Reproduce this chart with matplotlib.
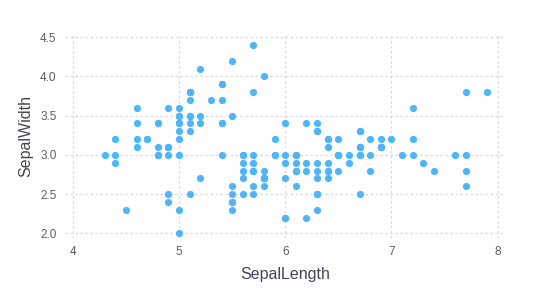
import matplotlib
matplotlib.use("Agg")
import matplotlib.pyplot as plt

# iris: dlugosc i szerokosc dzialki kielicha
sepal_length = [
    5.1, 4.9, 4.7, 4.6, 5.0, 5.4, 4.6, 5.0, 4.4, 4.9, 5.4, 4.8, 4.8, 4.3, 5.8, 5.7, 5.4, 5.1, 5.7, 5.1,
    5.4, 5.1, 4.6, 5.1, 4.8, 5.0, 5.0, 5.2, 5.2, 4.7, 4.8, 5.4, 5.2, 5.5, 4.9, 5.0, 5.5, 4.9, 4.4, 5.1,
    5.0, 4.5, 4.4, 5.0, 5.1, 4.8, 5.1, 4.6, 5.3, 5.0,
    7.0, 6.4, 6.9, 5.5, 6.5, 5.7, 6.3, 4.9, 6.6, 5.2, 5.0, 5.9, 6.0, 6.1, 5.6, 6.7, 5.6, 5.8, 6.2, 5.6,
    5.9, 6.1, 6.3, 6.1, 6.4, 6.6, 6.8, 6.7, 6.0, 5.7, 5.5, 5.5, 5.8, 6.0, 5.4, 6.0, 6.7, 6.3, 5.6, 5.5,
    5.5, 6.1, 5.8, 5.0, 5.6, 5.7, 5.7, 6.2, 5.1, 5.7,
    6.3, 5.8, 7.1, 6.3, 6.5, 7.6, 4.9, 7.3, 6.7, 7.2, 6.5, 6.4, 6.8, 5.7, 5.8, 6.4, 6.5, 7.7, 7.7, 6.0,
    6.9, 5.6, 7.7, 6.3, 6.7, 7.2, 6.2, 6.1, 6.4, 7.2, 7.4, 7.9, 6.4, 6.3, 6.1, 7.7, 6.3, 6.4, 6.0, 6.9,
    6.7, 6.9, 5.8, 6.8, 6.7, 6.7, 6.3, 6.5, 6.2, 5.9,
]
sepal_width = [
    3.5, 3.0, 3.2, 3.1, 3.6, 3.9, 3.4, 3.4, 2.9, 3.1, 3.7, 3.4, 3.0, 3.0, 4.0, 4.4, 3.9, 3.5, 3.8, 3.8,
    3.4, 3.7, 3.6, 3.3, 3.4, 3.0, 3.4, 3.5, 3.4, 3.2, 3.1, 3.4, 4.1, 4.2, 3.1, 3.2, 3.5, 3.6, 3.0, 3.4,
    3.5, 2.3, 3.2, 3.5, 3.8, 3.0, 3.8, 3.2, 3.7, 3.3,
    3.2, 3.2, 3.1, 2.3, 2.8, 2.8, 3.3, 2.4, 2.9, 2.7, 2.0, 3.0, 2.2, 2.9, 2.9, 3.1, 3.0, 2.7, 2.2, 2.5,
    3.2, 2.8, 2.5, 2.8, 2.9, 3.0, 2.8, 3.0, 2.9, 2.6, 2.4, 2.4, 2.7, 2.7, 3.0, 3.4, 3.1, 2.3, 3.0, 2.5,
    2.6, 3.0, 2.6, 2.3, 2.7, 3.0, 2.9, 2.9, 2.5, 2.8,
    3.3, 2.7, 3.0, 2.9, 3.0, 3.0, 2.5, 2.9, 2.5, 3.6, 3.2, 2.7, 3.0, 2.5, 2.8, 3.2, 3.0, 3.8, 2.6, 2.2,
    3.2, 2.8, 2.8, 2.7, 3.3, 3.2, 2.8, 3.0, 2.8, 3.0, 2.8, 3.8, 2.8, 2.8, 2.6, 3.0, 3.4, 3.1, 3.0, 3.1,
    3.1, 3.1, 2.7, 3.2, 3.3, 3.0, 2.5, 3.0, 3.4, 3.0,
]
x_ticks = [4, 5, 6, 7, 8]
y_ticks = [2.0, 2.5, 3.0, 3.5, 4.0, 4.5]

plt.rcParams["font.family"] = ["Liberation Sans", "DejaVu Sans"]

fig = plt.figure(figsize=(5.57, 3.0), dpi=100)
ax = fig.add_axes([65 / 557, 62 / 300, 440 / 557, 204 / 300])

ax.scatter(sepal_length, sepal_width, s=27, color="#4db5f8", linewidths=0, zorder=3)

ax.set_xlim(3.925, 8.07)
ax.set_ylim(1.94, 4.54)
ax.set_xticks(x_ticks)
ax.set_xticklabels([str(t) for t in x_ticks])
ax.set_yticks(y_ticks)
ax.set_yticklabels(["%.1f" % t for t in y_ticks])

for s in ax.spines.values():
    s.set_visible(False)
ax.grid(True, color="#d8d8e0", linestyle=(0, (2, 2)), linewidth=0.9)
ax.tick_params(length=0, labelsize=8.5, labelcolor="#5c5c66", pad=6)

ax.set_xlabel("SepalLength", fontsize=11.5, color="#444455", labelpad=6)
ax.set_ylabel("SepalWidth", fontsize=11.5, color="#444455", labelpad=5)

fig.savefig("out.png", dpi=100)
